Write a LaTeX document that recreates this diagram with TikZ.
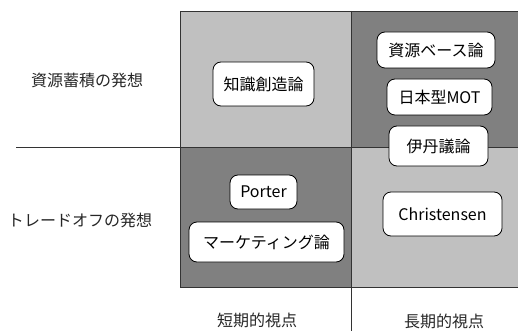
\documentclass[tikz,border=0pt]{standalone}
\usepackage{fontspec}
\setmainfont{Noto Sans CJK JP}
\definecolor{lightq}{HTML}{C0C0C0}
\definecolor{darkq}{HTML}{808080}
\tikzset{
  quad/.style={draw=black, line width=0.8pt},
  gridline/.style={draw=black!80, line width=0.9pt},
  theory/.style={draw=black, fill=white, line width=0.8pt, rounded corners=8pt, inner sep=0pt, align=center, font=\fontsize{16}{18}\selectfont},
  axislabel/.style={inner sep=0pt, font=\fontsize{16}{18}\selectfont, text=black!85},
}
\begin{document}
\begin{tikzpicture}[x=1pt,y=-1pt]
\useasboundingbox (0,0) rectangle (518,331);
% quadrants
\fill[lightq] (180,11) rectangle (351,147);
\fill[darkq] (351,11) rectangle (518,147);
\fill[darkq] (180,147) rectangle (351,287);
\fill[lightq] (351,147) rectangle (518,287);
% grid lines
\draw[gridline] (180,11) -- (518,11);
\draw[gridline] (16,147) -- (518,147);
\draw[gridline] (180,287) -- (518,287);
\draw[gridline] (180,11) -- (180,287);
\draw[gridline] (351,11) -- (351,331);
% axis labels
\node[axislabel] (resource) at (87,80) {資源蓄積の発想};
\node[axislabel] (tradeoff) at (80,220) {トレードオフの発想};
\node[axislabel] (short) at (257,320) {短期的視点};
\node[axislabel] (long) at (444,321) {長期的視点};
% theory boxes
\node[theory, minimum width=101pt, minimum height=44pt] (knowledge) at (263.5,84) {知識創造論};
\node[theory, minimum width=118pt, minimum height=36pt] (rbv) at (436,50) {資源ベース論};
\node[theory, minimum width=105pt, minimum height=36pt] (mot) at (439.5,97) {日本型MOT};
\node[theory, minimum width=99pt, minimum height=40pt] (itami) at (438.5,146) {伊丹議論};
\node[theory, minimum width=67pt, minimum height=34pt] (porter) at (263.5,192) {Porter};
\node[theory, minimum width=155pt, minimum height=40pt] (marketing) at (266.5,242) {マーケティング論};
\node[theory, minimum width=119pt, minimum height=44pt] (christensen) at (442.5,214) {Christensen};
\end{tikzpicture}
\end{document}
